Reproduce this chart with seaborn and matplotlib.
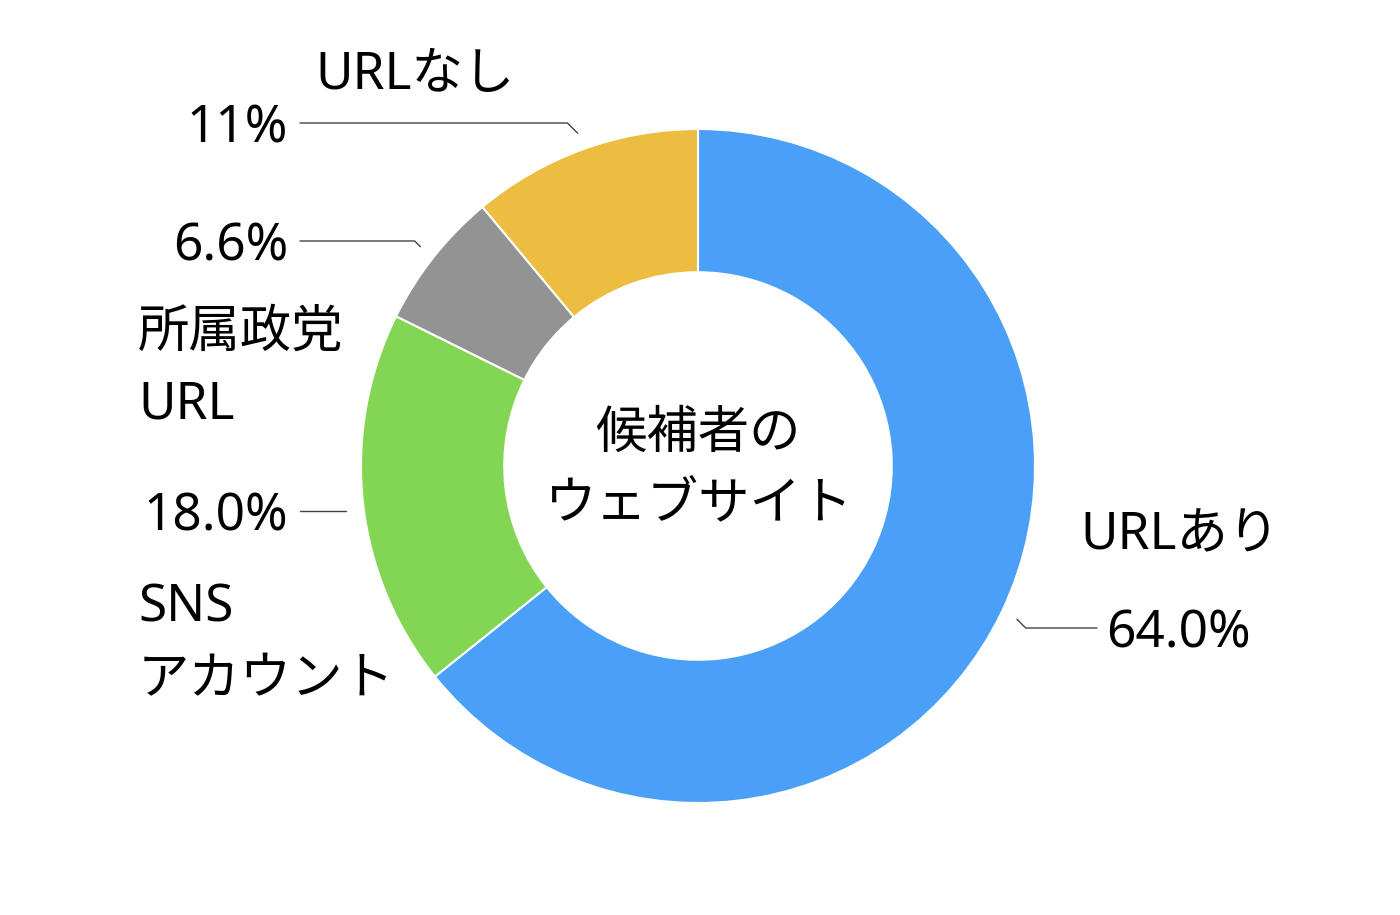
import numpy as np
import matplotlib
matplotlib.use("Agg")
import matplotlib.pyplot as plt
import seaborn as sns

# ---- data ----
categories = ["URLあり", "SNS\nアカウント", "所属政党\nURL", "URLなし"]
values = [64.0, 18.0, 6.6, 11.0]
value_labels = ["64.0%", "18.0%", "6.6%", "11%"]
colors = ["#4A9FF6", "#83D654", "#939393", "#EDBD41"]
center_title = "候補者の\nウェブサイト"

sns.set_theme(style="white")
plt.rcParams['font.family'] = ['Noto Sans', 'Noto Sans CJK JP', 'DejaVu Sans']
plt.rcParams['text.color'] = 'black'

W, H = 1400, 915
fig = plt.figure(figsize=(14, 9.15), dpi=100)
ax = fig.add_axes([0, 0, 1, 1])

cx, cy = 698, H - 466
R = 337
wedges, _ = ax.pie(values, colors=colors, startangle=90, counterclock=False,
                   center=(cx, cy), radius=R, frame=True,
                   wedgeprops=dict(width=R * 0.425, edgecolor="white", linewidth=1.5))
ax.set_xlim(0, W)
ax.set_ylim(0, H)
ax.set_aspect("equal")
ax.axis("off")

def px(y):
    return H - y

fs = 37
dy = 6  # text vertical nudge (px)
line_kw = dict(color="#444444", lw=1.0)

def label(x, y, s, ha, ls=1.5):
    ax.text(x, px(y + dy), s, fontsize=fs, ha=ha, va="center", linespacing=ls)

for i, w in enumerate(wedges):
    ang = np.deg2rad((w.theta1 + w.theta2) / 2)
    sx = cx + 1.05 * R * np.cos(ang)
    sy = cy + 1.05 * R * np.sin(ang)
    if i == 0:  # URLあり
        ey = px(628)
        ex = sx + (sy - ey)
        ax.plot([sx, ex, 1097], [sy, ey, ey], **line_kw)
        label(1106, 628, value_labels[i], "left")
        label(1080, 530, categories[i], "left")
    elif i == 1:  # SNS
        ey = px(511)
        ax.plot([346, 300], [ey, ey], **line_kw)
        label(288, 511, value_labels[i], "right")
        label(138, 638, categories[i], "left", 1.55)
    elif i == 2:  # 所属政党URL
        ey = px(241)
        ex = sx - (ey - sy)
        ax.plot([sx, ex, 300], [sy, ey, ey], **line_kw)
        label(288, 241, value_labels[i], "right")
        label(138, 363, categories[i], "left", 1.55)
    else:  # URLなし
        ey = px(123)
        ex = sx - (ey - sy)
        ax.plot([sx, ex, 300], [sy, ey, ey], **line_kw)
        label(288, 123, value_labels[i], "right")
        label(315, 70, categories[i], "left")

label(cx, 464, center_title, "center", 1.5)

fig.savefig("out.png", dpi=100, facecolor="white")
